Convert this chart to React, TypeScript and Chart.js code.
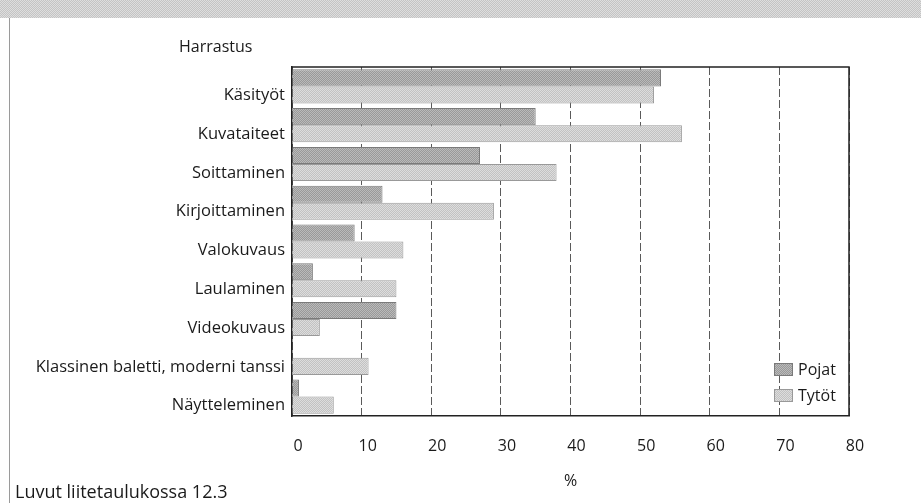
import React, { useEffect, useRef } from "react";
import { Chart, registerables } from "chart.js";

Chart.register(...registerables);

const categories = [
  "Käsityöt",
  "Kuvataiteet",
  "Soittaminen",
  "Kirjoittaminen",
  "Valokuvaus",
  "Laulaminen",
  "Videokuvaus",
  "Klassinen baletti, moderni tanssi",
  "Näytteleminen",
];
const pojat = [53, 35, 27, 13, 9, 3, 15, 0, 1];
const tytot = [52, 56, 38, 29, 16, 15, 4, 11, 6];
const seriesLabels = ["Pojat", "Tytöt"];
const xTicks = [0, 10, 20, 30, 40, 50, 60, 70, 80];
const yTitle = "Harrastus";
const xTitle = "%";
const footnote = "Luvut liitetaulukossa 12.3";

const FONT = "'Open Sans', 'Noto Sans', sans-serif";

function makePattern(a: string, b: string): CanvasPattern | string {
  const c = document.createElement("canvas");
  c.width = 2;
  c.height = 2;
  const g = c.getContext("2d");
  if (!g) return a;
  g.fillStyle = a;
  g.fillRect(0, 0, 2, 2);
  g.fillStyle = b;
  g.fillRect(0, 0, 1, 1);
  g.fillRect(1, 1, 1, 1);
  const p = g.createPattern(c, "repeat");
  return p || a;
}

const framePlugin = {
  id: "frame",
  afterDraw(chart: any) {
    const { ctx, chartArea } = chart;
    const { left, right, top, bottom } = chartArea;
    ctx.save();
    ctx.strokeStyle = "#222";
    ctx.lineWidth = 1.5;
    ctx.beginPath();
    ctx.moveTo(left, top);
    ctx.lineTo(right, top);
    ctx.lineTo(right, bottom);
    ctx.stroke();
    // y-axis title above the labels
    ctx.fillStyle = "#1a1a1a";
    ctx.font = `16px ${FONT}`;
    ctx.textAlign = "left";
    ctx.textBaseline = "middle";
    ctx.fillText(yTitle, left - 113, top - 20);
    // legend inside plot area, bottom right
    const ds = chart.data.datasets;
    ds.forEach((d: any, i: number) => {
      const bx = right - 75;
      const by = bottom - 53 + i * 26;
      ctx.fillStyle = d.backgroundColor;
      ctx.fillRect(bx, by, 19, 13);
      ctx.strokeStyle = d.borderColor;
      ctx.lineWidth = 1;
      ctx.strokeRect(bx + 0.5, by + 0.5, 18, 12);
      ctx.fillStyle = "#1a1a1a";
      ctx.font = `16px ${FONT}`;
      ctx.fillText(d.label, bx + 24, by + 7);
    });
    ctx.restore();
  },
};

export default function App() {
  const ref = useRef<HTMLCanvasElement>(null);
  useEffect(() => {
    if (!ref.current) return;
    const pPattern = makePattern("#999999", "#bababa");
    const tPattern = makePattern("#c2c2c2", "#dddddd");
    const chart = new Chart(ref.current, {
      type: "bar",
      data: {
        labels: categories,
        datasets: [
          {
            label: seriesLabels[0],
            data: pojat,
            backgroundColor: pPattern as any,
            borderColor: "#7a7a7a",
            borderWidth: 1,
            categoryPercentage: 0.88,
            barPercentage: 1,
          },
          {
            label: seriesLabels[1],
            data: tytot,
            backgroundColor: tPattern as any,
            borderColor: "#999999",
            borderWidth: 1,
            categoryPercentage: 0.88,
            barPercentage: 1,
          },
        ],
      },
      options: {
        indexAxis: "y",
        animation: false,
        responsive: false,
        maintainAspectRatio: false,
        layout: { padding: { left: 0, top: 67, right: 72, bottom: 0 } },
        plugins: {
          legend: { display: false },
          tooltip: { enabled: false },
        },
        scales: {
          x: {
            min: 0,
            max: 80,
            afterFit: (s: any) => {
              s.height = 87;
            },
            afterBuildTicks: (s: any) => {
              s.ticks = xTicks.map((v) => ({ value: v }));
            },
            ticks: {
              stepSize: 10,
              padding: 21,
              labelOffset: 6,
              color: "#1a1a1a",
              font: { family: FONT, size: 16 },
            },
            grid: {
              color: "#5a5a5a",
              lineWidth: 1,
              drawTicks: false,
            },
            border: { display: true, color: "#222", width: 1.5, dash: [8, 3] },
            title: {
              display: true,
              text: xTitle,
              color: "#1a1a1a",
              font: { family: FONT, size: 16 },
              padding: { top: 0, bottom: 12 },
            },
          },
          y: {
            afterFit: (s: any) => {
              s.width = 292;
            },
            ticks: {
              padding: 7,
              labelOffset: 9,
              color: "#1a1a1a",
              font: { family: FONT, size: 16.5 },
            },
            grid: { display: false, drawTicks: false },
            border: { display: true, color: "#222", width: 1.5 },
          },
        },
      },
      plugins: [framePlugin],
    });
    return () => chart.destroy();
  }, []);

  return (
    <div
      style={{
        position: "absolute",
        left: 0,
        top: 0,
        width: 921,
        height: 503,
        background: "#fff",
        overflow: "hidden",
      }}
    >
      <div
        style={{
          position: "absolute",
          left: 0,
          top: 0,
          width: 921,
          height: 18,
          background:
            "repeating-conic-gradient(#c4c4c4 0% 25%, #dedede 0% 50%) 0 0 / 2px 2px",
        }}
      />
      <div
        style={{
          position: "absolute",
          left: 9,
          top: 18,
          width: 1,
          height: 485,
          background: "#9a9a9a",
        }}
      />
      <canvas
        ref={ref}
        width={921}
        height={503}
        style={{ position: "absolute", left: 0, top: 0, width: 921, height: 503 }}
      />
      <div
        style={{
          position: "absolute",
          left: 15,
          top: 480,
          fontFamily: FONT,
          fontSize: 18,
          lineHeight: "22px",
          color: "#1a1a1a",
          whiteSpace: "nowrap",
        }}
      >
        {footnote}
      </div>
    </div>
  );
}
